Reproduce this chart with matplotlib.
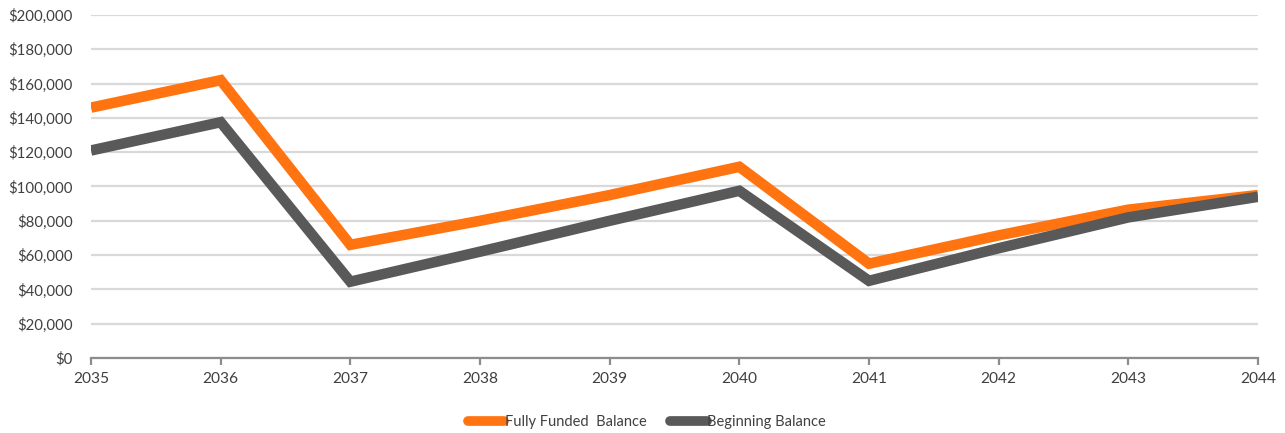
import matplotlib
matplotlib.use("Agg")
import matplotlib.pyplot as plt
from matplotlib.ticker import FuncFormatter, MultipleLocator

years = [2035, 2036, 2037, 2038, 2039, 2040, 2041, 2042, 2043, 2044]
fully_funded = [146000, 162000, 66000, 80000, 95000, 111500, 55000, 71500, 86500, 95000]
beginning = [121000, 137500, 44500, 62000, 80000, 97500, 45000, 64000, 82000, 94000]

plt.rcParams["font.family"] = ["Lato", "DejaVu Sans"]

ORANGE = "#ff7410"
GRAY = "#595959"
TEXT = "#404040"

fig = plt.figure(figsize=(12.85, 4.33), dpi=100)
ax = fig.add_axes([91 / 1285, 1 - 358 / 433, (1258 - 91) / 1285, (358 - 15) / 433])

x = list(range(len(years)))
ax.plot(x, fully_funded, color=ORANGE, lw=7.6, solid_joinstyle="miter",
        solid_capstyle="butt", label="Fully Funded  Balance", zorder=3)
ax.plot(x, beginning, color=GRAY, lw=7.6, solid_joinstyle="miter",
        solid_capstyle="butt", label="Beginning Balance", zorder=3)

ax.set_xlim(0, len(years) - 1)
ax.set_ylim(0, 200000)
ax.yaxis.set_major_locator(MultipleLocator(20000))
ax.yaxis.set_major_formatter(FuncFormatter(lambda v, p: f"${v:,.0f}"))
ax.set_xticks(x)
ax.set_xticklabels([str(y) for y in years])

ax.grid(axis="y", color="#d9d9d9", lw=1.6, zorder=0)
ax.set_axisbelow(True)
for s in ["top", "right", "left"]:
    ax.spines[s].set_visible(False)
ax.spines["bottom"].set_color("#8c8c8c")
ax.spines["bottom"].set_linewidth(1.6)

ax.tick_params(axis="y", length=0, labelsize=10.8, labelcolor=TEXT, pad=13)
ax.tick_params(axis="x", length=5, width=1.6, color="#8c8c8c",
               labelsize=11.2, labelcolor=TEXT, pad=5)

leg = fig.legend(loc="center", bbox_to_anchor=(647 / 1285, 1 - 422 / 433),
                 ncol=2, frameon=False, fontsize=10.5, handlelength=2.5,
                 handletextpad=0.05, columnspacing=1.6, labelcolor=TEXT)
for line in leg.get_lines():
    line.set_linewidth(7)
    line.set_solid_capstyle("round")

fig.savefig("out.png", dpi=100)
